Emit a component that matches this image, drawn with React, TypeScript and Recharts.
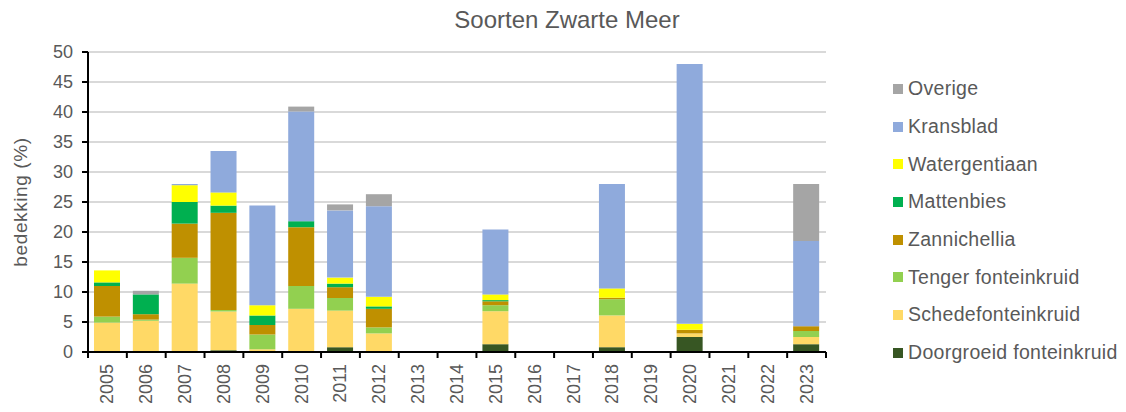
import { BarChart, Bar, XAxis, YAxis, CartesianGrid, Legend, Label } from 'recharts'

const years = ['2005', '2006', '2007', '2008', '2009', '2010', '2011', '2012', '2013', '2014', '2015', '2016', '2017', '2018', '2019', '2020', '2021', '2022', '2023']

const doorgroeid = [0, 0, 0, 0.3, 0, 0, 0.8, 0, 0, 0, 1.3, 0, 0, 0.8, 0, 2.5, 0, 0, 1.3]
const schede = [4.9, 5.2, 11.4, 6.45, 0.45, 7.2, 6.1, 3.1, 0, 0, 5.5, 0, 0, 5.3, 0, 0.6, 0, 0, 1.2]
const tenger = [1.0, 0.2, 4.3, 0.25, 2.45, 3.8, 2.1, 1.0, 0, 0, 1.0, 0, 0, 2.7, 0, 0, 0, 0, 1.0]
const zannichellia = [5.1, 0.9, 5.7, 16.2, 1.6, 9.8, 1.8, 3.1, 0, 0, 0.65, 0, 0, 0.25, 0, 0.6, 0, 0, 0.8]
const mattenbies = [0.6, 3.3, 3.6, 1.2, 1.6, 1.0, 0.6, 0.4, 0, 0, 0.2, 0, 0, 0, 0, 0, 0, 0, 0]
const watergentiaan = [2.0, 0, 2.8, 2.2, 1.7, 0, 1.0, 1.6, 0, 0, 0.95, 0, 0, 1.55, 0, 1.0, 0, 0, 0]
const kransblad = [0, 0, 0.2, 6.9, 16.6, 18.3, 11.2, 15.1, 0, 0, 10.8, 0, 0, 17.4, 0, 43.3, 0, 0, 14.2]
const overige = [0, 0.6, 0, 0, 0, 0.8, 1.0, 2.0, 0, 0, 0, 0, 0, 0, 0, 0, 0, 0, 9.5]

const yTicks = [0, 5, 10, 15, 20, 25, 30, 35, 40, 45, 50]

// stacking order, bottom first
const series = [
  { key: 'doorgroeid', name: 'Doorgroeid fonteinkruid', color: '#375623', values: doorgroeid },
  { key: 'schede', name: 'Schedefonteinkruid', color: '#FFD966', values: schede },
  { key: 'tenger', name: 'Tenger fonteinkruid', color: '#92D050', values: tenger },
  { key: 'zannichellia', name: 'Zannichellia', color: '#BF9000', values: zannichellia },
  { key: 'mattenbies', name: 'Mattenbies', color: '#00B050', values: mattenbies },
  { key: 'watergentiaan', name: 'Watergentiaan', color: '#FFFF00', values: watergentiaan },
  { key: 'kransblad', name: 'Kransblad', color: '#8FAADC', values: kransblad },
  { key: 'overige', name: 'Overige', color: '#A5A5A5', values: overige },
]

const data = years.map((year, i) => {
  const row: Record<string, string | number> = { year }
  series.forEach((s) => {
    row[s.key] = s.values[i]
  })
  return row
})

const W = 1126
const H = 412
const margin = { top: 52, right: 300, bottom: 5, left: 38 }
const yAxisW = 50
const plotW = W - margin.left - margin.right - yAxisW
const band = plotW / years.length
const FONT = '"Liberation Sans", Arial, sans-serif'
const TEXT = '#595959'

const XTick = (props: any) => {
  const { x, y, payload, index } = props
  const left = x - band / 2
  return (
    <g>
      <line x1={left} y1={y - 8} x2={left} y2={y - 2} stroke="#000" strokeWidth={2} />
      {index === years.length - 1 && (
        <line x1={x + band / 2} y1={y - 8} x2={x + band / 2} y2={y - 2} stroke="#000" strokeWidth={2} />
      )}
      <text
        x={x + 6}
        y={y + 4}
        transform={`rotate(-90, ${x + 6}, ${y + 4})`}
        textAnchor="end"
        fill={TEXT}
        fontSize={18}
        fontFamily={FONT}
      >
        {payload.value}
      </text>
    </g>
  )
}

const LegendBox = () => (
  <div style={{ position: 'absolute', left: 893, top: 70, fontFamily: FONT }}>
    {[...series].reverse().map((s) => (
      <div key={s.key} style={{ display: 'flex', alignItems: 'center', height: 37.7 }}>
        <span style={{ width: 10, height: 10, background: s.color, marginRight: 5 }} />
        <span style={{ fontSize: 19.5, color: TEXT, letterSpacing: 0.3 }}>{s.name}</span>
      </div>
    ))}
  </div>
)

export default function App() {
  return (
    <div style={{ position: 'absolute', left: 0, top: 0, width: W, height: H, background: '#fff' }}>
      <div
        style={{
          position: 'absolute',
          left: 0,
          width: 1134,
          top: 6,
          textAlign: 'center',
          fontFamily: FONT,
          fontSize: 24,
          color: TEXT,
        }}
      >
        Soorten Zwarte Meer
      </div>
      <BarChart width={W} height={H} data={data} margin={margin} barSize={26}>
        <CartesianGrid vertical={false} stroke="#D9D9D9" strokeWidth={2} />
        <XAxis
          dataKey="year"
          height={55}
          interval={0}
          axisLine={{ stroke: '#000', strokeWidth: 2 }}
          tickLine={false}
          tick={<XTick />}
        />
        <YAxis
          width={yAxisW}
          domain={[0, 50]}
          ticks={yTicks}
          interval={0}
          axisLine={{ stroke: '#000', strokeWidth: 2 }}
          tickLine={{ stroke: '#000', strokeWidth: 2 }}
          tickSize={6}
          tickMargin={9}
          tick={{ fill: TEXT, fontSize: 18, fontFamily: FONT }}
        >
          <Label
            value="bedekking (%)"
            angle={-90}
            position="insideLeft"
            offset={-18}
            style={{ fill: TEXT, fontSize: 19, fontFamily: FONT, textAnchor: 'middle', letterSpacing: 0.6 }}
          />
        </YAxis>
        {series.map((s) => (
          <Bar key={s.key} dataKey={s.key} name={s.name} stackId="a" fill={s.color} isAnimationActive={false} />
        ))}
        <Legend content={() => null} />
      </BarChart>
      <LegendBox />
    </div>
  )
}
